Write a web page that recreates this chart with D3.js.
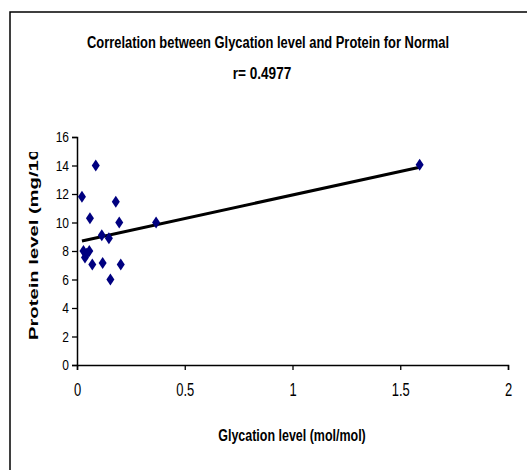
<!DOCTYPE html>
<html>
<head>
<meta charset="utf-8">
<script src="https://cdn.jsdelivr.net/npm/d3@7"></script>
<style>
  body { margin: 0; background: #fff; }
  svg { display: block; font-family: "Liberation Sans", Arial, sans-serif; }
</style>
</head>
<body>
<svg id="chart"></svg>
<script>
// glycation level (mol/mol)
const glycation = [0.023, 0.087, 0.06, 0.18, 0.196, 0.115, 0.148, 0.03, 0.057, 0.037, 0.045, 0.071, 0.119, 0.203, 0.155, 0.367, 1.59];
// protein level
const protein = [11.8, 14.0, 10.3, 11.45, 10.0, 9.1, 8.9, 8.0, 8.0, 7.55, 7.8, 7.05, 7.15, 7.05, 6.0, 10.0, 14.05];
const xTicks = [0, 0.5, 1, 1.5, 2];
const yTicks = [0, 2, 4, 6, 8, 10, 12, 14, 16];

const width = 527, height = 470;
const margin = { top: 137, right: 19, bottom: 105, left: 77 };

const svg = d3.select('#chart')
  .attr('width', width)
  .attr('height', height);

// outer frame (right/bottom edges fall outside the picture)
svg.append('rect')
  .attr('x', 10).attr('y', 12)
  .attr('width', 540).attr('height', 480)
  .attr('fill', 'none')
  .attr('stroke', '#000')
  .attr('stroke-width', 1.5);

const x = d3.scaleLinear()
  .domain([0, 2])
  .range([margin.left, width - margin.right]);

const y = d3.scaleLinear()
  .domain([0, 16])
  .range([height - margin.bottom, margin.top]);

// no narrow font installed, so squeeze text horizontally
function narrowText(cx, cy, str, size, sx) {
  return svg.append('text')
    .attr('transform', `translate(${cx},${cy}) scale(${sx},1)`)
    .attr('text-anchor', 'middle')
    .attr('font-weight', 'bold')
    .attr('font-size', size)
    .text(str);
}

narrowText(268, 48, 'Correlation between Glycation level and Protein for Normal', 17, 0.76);
narrowText(262, 79, 'r= 0.4977', 17, 0.8);
narrowText(292, 441, 'Glycation level (mol/mol)', 16, 0.78);

// axes
const xAxis = svg.append('g')
  .attr('transform', `translate(0,${y(0)})`)
  .call(d3.axisBottom(x).tickValues(xTicks).tickFormat(d3.format('')).tickSizeOuter(0).tickSize(5).tickPadding(13));
xAxis.select('.domain').attr('stroke-width', 1.5);
xAxis.selectAll('.tick line').attr('stroke-width', 1.3);
xAxis.selectAll('text')
  .attr('font-size', 18)
  .attr('transform', 'scale(0.72,1)')
  .attr('fill', '#000');

const yAxis = svg.append('g')
  .attr('transform', `translate(${x(0)},0)`)
  .call(d3.axisLeft(y).tickValues(yTicks).tickSizeOuter(0).tickSize(5).tickPadding(3));
yAxis.select('.domain').attr('stroke-width', 1.5);
yAxis.selectAll('.tick line').attr('stroke-width', 1.3);
yAxis.selectAll('text')
  .attr('font-size', 15)
  .attr('x', -8 / 0.8)
  .attr('transform', 'scale(0.8,1)')
  .attr('fill', '#000');

// y title, cut at the top like the original
svg.append('clipPath').attr('id', 'ylabclip')
  .append('rect').attr('x', 0).attr('y', 152).attr('width', 60).attr('height', 260);

svg.append('g')
  .attr('clip-path', 'url(#ylabclip)')
  .append('text')
  .attr('transform', 'translate(37.5,340) rotate(-90) scale(1.5,1)')
  .attr('font-weight', 'bold')
  .attr('font-size', 13.5)
  .text('Protein level (mg/100 ml)');

// trend line (least squares)
const pts = glycation.map((g, i) => [g, protein[i]]);
const mx = d3.mean(glycation), my = d3.mean(protein);
const sxy = d3.sum(pts, p => (p[0] - mx) * (p[1] - my));
const sxx = d3.sum(glycation, g => (g - mx) ** 2);
const slope = sxy / sxx, intercept = my - slope * mx;
const ext = d3.extent(glycation);

svg.append('line')
  .attr('x1', x(ext[0])).attr('y1', y(intercept + slope * ext[0]))
  .attr('x2', x(ext[1])).attr('y2', y(intercept + slope * ext[1]))
  .attr('stroke', '#000')
  .attr('stroke-width', 3);

// points
svg.append('g')
  .selectAll('path')
  .data(pts)
  .join('path')
  .attr('d', 'M0,-6L4,0L0,6L-4,0Z')
  .attr('transform', d => `translate(${x(d[0])},${y(d[1])})`)
  .attr('fill', '#000080');
</script>
</body>
</html>
